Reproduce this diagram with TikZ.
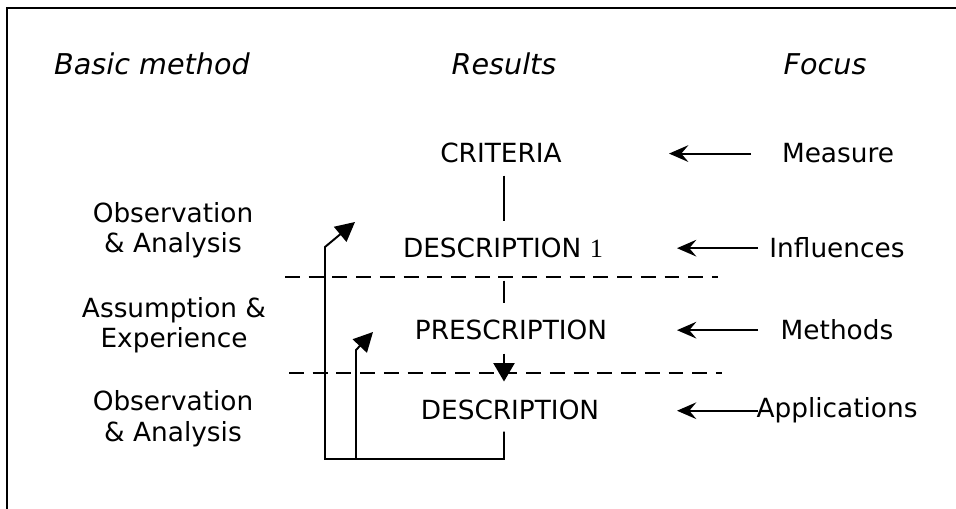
\documentclass[tikz,border=0pt]{standalone}
\usepackage{fontspec}
\setmainfont{DejaVu Sans}
\newfontfamily\serifone{Liberation Serif}
\usepackage{tikz}
\usetikzlibrary{arrows.meta,positioning}
\tikzset{
    txt/.style={
        font=\fontsize{15}{17.6}\selectfont,
        inner sep=0pt,
        anchor=base,
        align=center
    },
    headtxt/.style={
        txt,
        font=\fontsize{16.3}{17.6}\selectfont\itshape
    },
    plainline/.style={
        line width=1.1pt,
        black
    },
    % arrows of the focus column
    focusarrow/.style={
        line width=1.1pt,
        black,
        ->,
        >={Stealth[length=11pt, width=9.5pt, inset=4pt]}
    },
    bigarrow/.style={
        line width=1.1pt,
        black,
        ->,
        >={Triangle[length=11pt, width=11pt]}
    },
    sepline/.style={
        line width=1.1pt,
        black,
        dash pattern=on 8.5pt off 5pt
    }
}

\begin{document}
\begin{tikzpicture}[x=0.02cm,y=-0.02cm]
   \useasboundingbox (0,0) rectangle (956,509);
   \draw[line width=1.5pt] (7,509) -- (7,8) -- (956,8);

   % column heads
   \node[headtxt] (hmeth) at (152,75) {Basic method};
   \node[headtxt] (hres)  at (504,75) {Results};
   \node[headtxt] (hfoc)  at (825,75) {Focus};

   % results
   \node[txt] (crit)  at (501,163) {CRITERIA};
   \node[txt] (desc1) at (503,258) {DESCRIPTION {\serifone 1}};
   \node[txt] (presc) at (511,340) {PRESCRIPTION};
   \node[txt] (desc)  at (510,419) {DESCRIPTION};

   % focus
   \node[txt] (meas) at (838,163) {Measure};
   \node[txt] (infl) at (837,258) {Influences};
   \node[txt] (meth) at (837,340) {Methods};
   \node[txt] (appl) at (837,418) {Applications};

   % basic method (base = last line)
   \node[txt] (obs1) at (173,253) {Observation\\ \& Analysis};
   \node[txt] (ass)  at (174,348) {Assumption \&\\ Experience};
   \node[txt] (obs2) at (173,441) {Observation\\ \& Analysis};

   \coordinate (spine) at (504,0);
   \coordinate (tailA) at (751,0);
   \coordinate (tipA)  at (669,0);
   \coordinate (tailB) at (758,0);
   \coordinate (tipB)  at (677,0);
   \coordinate (fbot)  at (325,459);
   \coordinate (fbend) at (325,247);
   \coordinate (ftip)  at (355,222);
   \coordinate (gbot)  at (356,459);
   \coordinate (gbend) at (356,350);
   \coordinate (gtip)  at (373,332);

   \draw[sepline] (285,277) -- (718,277);
   \draw[sepline] (289,373) -- (722,373);

   \draw[plainline, shorten <=6.8pt, shorten >=9.5pt] (crit.south -| spine) -- (desc1.north -| spine);
   \draw[plainline, shorten <=12.5pt, shorten >=10pt] (desc1.south -| spine) -- (presc.north -| spine);
   \draw[bigarrow, >={Triangle[length=10.5pt, width=12pt]}, shorten <=7.4pt, shorten >=10pt] (presc.south -| spine) -- (desc.north -| spine);

   \draw[bigarrow, shorten <=6.8pt] (desc.south -| spine) |- (fbot) -- (fbend) -- (ftip);
   \draw[bigarrow] (gbot) -- (gbend) -- (gtip);

   \draw[focusarrow] (meas.west -| tailA) -- (meas.west -| tipA);
   \draw[focusarrow] (infl.west -| tailB) -- (infl.west -| tipB);
   \draw[focusarrow] (meth.west -| tailB) -- (meth.west -| tipB);
   \draw[focusarrow] (appl.west -| tailB) -- (appl.west -| tipB);
  \end{tikzpicture}
\end{document}
